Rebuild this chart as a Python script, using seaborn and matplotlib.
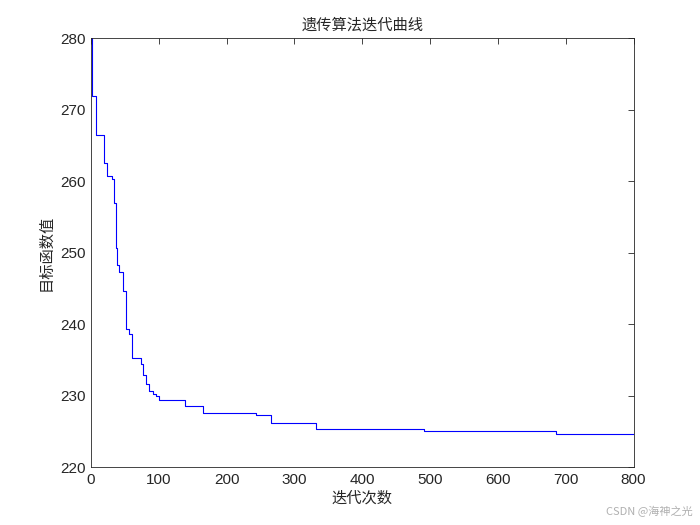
import matplotlib
matplotlib.use('Agg')
import matplotlib.pyplot as plt
import seaborn as sns
import pandas as pd

# iterations where the best value changes, and the value from there on
iterations = [0, 1, 7, 19, 24, 31, 34, 37, 39, 42, 47, 52, 56, 60, 73, 77,
              81, 86, 91, 96, 100, 138, 165, 244, 265, 332, 491, 685, 800]
best_values = [280.0, 272.0, 266.5, 262.5, 260.7, 260.3, 257.0, 250.6, 248.3,
               247.3, 244.7, 239.4, 238.7, 235.3, 234.5, 232.9, 231.7, 230.7,
               230.3, 229.9, 229.4, 228.5, 227.6, 227.35, 226.2, 225.4, 225.1,
               224.6, 224.6]
x_ticks = [0, 100, 200, 300, 400, 500, 600, 700, 800]
y_ticks = [220, 230, 240, 250, 260, 270, 280]

title = '遗传算法迭代曲线'
x_label = '迭代次数'
y_label = '目标函数值'

sns.set_theme(style='white')
plt.rcParams['font.family'] = ['Liberation Sans', 'Noto Sans CJK SC', 'DejaVu Sans']
cjk = ['Noto Sans CJK SC', 'DejaVu Sans']

df = pd.DataFrame({'iter': iterations, 'value': best_values})

fig = plt.figure(figsize=(7, 5.25), dpi=100)
ax = fig.add_axes([0.13, 0.11, 0.775, 0.817])
sns.lineplot(data=df, x='iter', y='value', ax=ax, color='#0000ff',
             linewidth=0.8, drawstyle='steps-post')

ax.set_xlim(0, 800)
ax.set_ylim(220, 280)
ax.set_xticks(x_ticks)
ax.set_yticks(y_ticks)
ax.tick_params(direction='in', top=True, right=True, length=4, width=0.6,
               labelsize=11, colors='#262626', pad=4)
for s in ax.spines.values():
    s.set_color('#262626')
    s.set_linewidth(0.6)

ax.set_title(title, family=cjk, fontsize=11, color='#262626', pad=6)
ax.set_xlabel(x_label, family=cjk, fontsize=11, color='#262626', labelpad=2)
ax.set_ylabel(y_label, family=cjk, fontsize=11, color='#262626', labelpad=4)

fig.text(0.99, 0.015, 'CSDN @海神之光', family=cjk, fontsize=8,
         color='#b0b0b0', ha='right', va='bottom')

fig.savefig('out.png', dpi=100, facecolor='white')
